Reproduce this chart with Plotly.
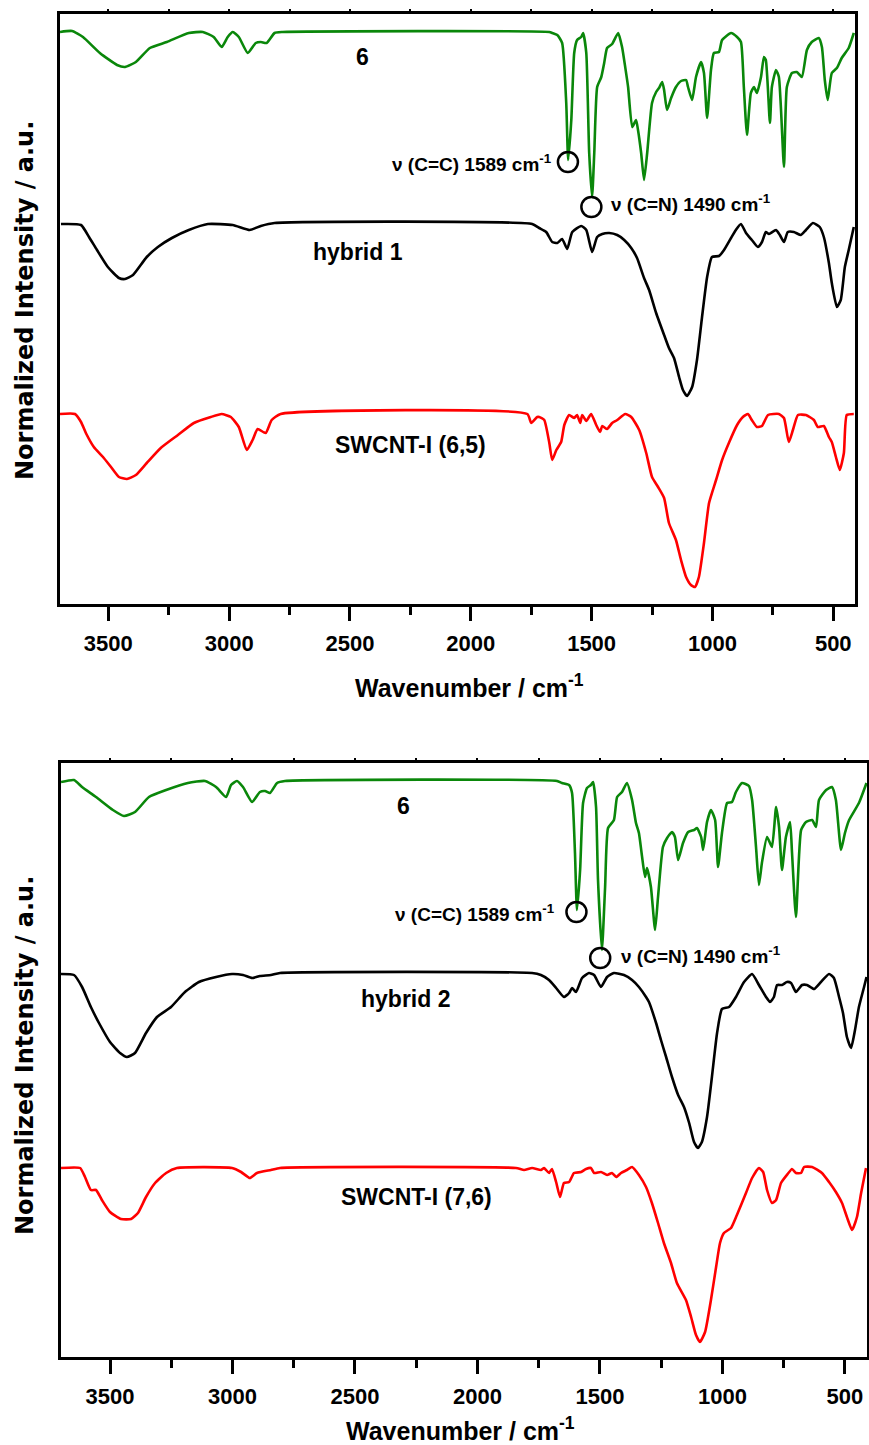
import plotly.graph_objects as go

# ---------------- top panel (compound 6 / hybrid 1 / SWCNT-I (6,5)) ----------------
wn_6_top = [3700, 3650, 3605, 3535, 3464, 3431, 3386, 3328, 3258, 3167, 3109, 3064, 3031, 3006, 2985, 2960,
            2923, 2890, 2869, 2845, 2812, 2779, 1675, 1663, 1642, 1622, 1605, 1597, 1584, 1572, 1560, 1543,
            1535, 1522, 1510, 1498, 1489, 1477, 1460, 1448, 1436, 1415, 1390, 1374, 1361, 1349, 1332, 1316,
            1308, 1295, 1283, 1270, 1250, 1233, 1221, 1208, 1200, 1188, 1171, 1151, 1130, 1109, 1101, 1084,
            1068, 1047, 1035, 1022, 1006, 994, 973, 960, 923, 898, 882, 870, 857, 841, 828, 816, 799, 787,
            779, 762, 754, 737, 725, 704, 692, 671, 651, 630, 609, 589, 560, 547, 535, 523, 506, 485, 465,
            436, 415]
int_6_top = [572, 573, 567, 551, 539, 537, 542, 556, 562, 571, 572, 567, 557, 567, 572, 567,
             551, 561, 562, 561, 571, 572, 572, 571, 569, 561, 501, 444, 484, 551, 564, 567,
             571, 551, 451, 407, 451, 517, 527, 541, 556, 560, 571, 557, 537, 517, 477, 484,
             474, 451, 424, 451, 501, 512, 516, 522, 514, 494, 506, 517, 523, 524, 517, 504,
             527, 542, 531, 486, 534, 551, 552, 564, 571, 567, 562, 517, 469, 511, 517, 511, 527, 547,
             544, 481, 517, 534, 527, 437, 517, 531, 532, 527, 554, 562, 566, 557, 524, 504, 531, 536, 546,
             556, 571]

wn_h1 = [3696, 3613, 3580, 3547, 3502, 3456, 3431, 3398, 3341, 3295, 3237, 3167, 3088, 2985, 2915, 2869,
         2812, 1746, 1717, 1688, 1663, 1642, 1622, 1601, 1580, 1543, 1522, 1498, 1477, 1456, 1427, 1394,
         1365, 1336, 1312, 1283, 1262, 1233, 1200, 1180, 1159, 1138, 1122, 1105, 1084, 1064, 1043, 1022,
         1002, 973, 952, 923, 903, 882, 861, 837, 812, 795, 779, 766, 737, 721, 704, 688, 663, 634, 613,
         584, 556, 539, 518, 506, 485, 469, 452, 436, 415]
int_h1 = [380, 379, 367, 354, 337, 326, 325, 329, 347, 357, 366, 374, 380, 379, 374, 378,
          381, 380, 376, 372, 362, 361, 365, 355, 372, 378, 374, 352, 367, 370, 371, 369,
          364, 356, 346, 326, 314, 291, 269, 256, 246, 227, 214, 208, 217, 244, 287, 327,
          347, 348, 354, 366, 374, 380, 371, 364, 357, 362, 372, 370, 374, 369, 362, 372, 372, 369, 374,
          381, 377, 367, 341, 321, 297, 304, 337, 354, 377]

wn_s65 = [3700, 3638, 3613, 3593, 3560, 3522, 3489, 3456, 3423, 3386, 3341, 3283, 3212, 3146, 3076, 3031,
          2993, 2960, 2927, 2903, 2882, 2849, 2824, 2787, 1766, 1750, 1725, 1717, 1696, 1675, 1663, 1646,
          1626, 1613, 1593, 1572, 1560, 1547, 1539, 1522, 1502, 1481, 1465, 1456, 1436, 1415, 1394, 1361,
          1336, 1303, 1274, 1250, 1225, 1200, 1180, 1151, 1130, 1109, 1089, 1072, 1056, 1035, 1014, 985,
          960, 932, 898, 874, 853, 837, 816, 795, 770, 725, 704, 684, 667, 646, 613, 580, 564, 539, 518,
          506, 489, 473, 456, 444, 415]
int_s65 = [190, 190, 182, 171, 157, 147, 137, 127, 125, 129, 141, 156, 169, 181, 187, 190,
           187, 177, 154, 164, 175, 171, 184, 190, 190, 181, 187, 187, 184, 161, 144, 154,
           162, 179, 189, 186, 189, 181, 189, 183, 190, 179, 172, 178, 175, 181, 184, 190,
           187, 174, 151, 127, 117, 106, 81, 64, 44, 27, 19, 17, 27, 61, 101, 124,
           144, 161, 179, 187, 190, 184, 177, 178, 189, 190, 186, 162, 174, 189, 189, 184, 177, 178, 167,
           162, 147, 134, 151, 189, 190]

# ---------------- bottom panel (compound 6 / hybrid 2 / SWCNT-I (7,6)) ----------------
wn_6_bot = [3700, 3647, 3614, 3557, 3488, 3443, 3398, 3341, 3271, 3182, 3112, 3067, 3026, 3006, 2982, 2957,
            2920, 2888, 2867, 2847, 2818, 2786, 1675, 1655, 1626, 1614, 1602, 1594, 1581, 1569, 1553, 1537,
            1528, 1516, 1508, 1492, 1479, 1467, 1443, 1430, 1410, 1390, 1369, 1353, 1341, 1328, 1316, 1308,
            1292, 1275, 1263, 1243, 1226, 1206, 1194, 1181, 1161, 1140, 1116, 1104, 1087, 1079, 1063, 1047,
            1030, 1018, 1002, 981, 961, 945, 920, 892, 879, 863, 851, 839, 818, 798, 781, 769, 757, 741,
            724, 716, 700, 679, 659, 634, 618, 606, 577, 553, 537, 516, 500, 483, 443, 412]
int_6_bot = [575, 577, 570, 560, 547, 541, 545, 560, 567, 574, 576, 570, 560, 572, 576, 570,
             555, 565, 566, 564, 574, 576, 576, 574, 572, 564, 504, 447, 487, 554, 569, 572,
             575, 550, 477, 407, 470, 529, 537, 560, 565, 574, 557, 534, 524, 500, 480, 489,
             470, 427, 460, 510, 519, 525, 520, 497, 514, 525, 527, 529, 520, 507, 535, 547,
             537, 490, 524, 554, 555, 565, 574, 571, 557, 510, 472, 494, 520, 510, 550, 530, 487, 520,
             535, 504, 440, 527, 535, 537, 530, 557, 567, 570, 557, 507, 524, 537, 554, 574]

wn_h2 = [3700, 3647, 3614, 3578, 3545, 3500, 3459, 3431, 3398, 3353, 3308, 3251, 3194, 3137, 3067, 3002,
         2957, 2920, 2888, 2843, 2806, 1777, 1741, 1708, 1679, 1647, 1626, 1614, 1598, 1573, 1545, 1524,
         1496, 1471, 1443, 1402, 1369, 1341, 1312, 1300, 1271, 1251, 1230, 1206, 1181, 1157, 1136, 1116,
         1100, 1084, 1063, 1043, 1022, 1002, 973, 945, 912, 879, 851, 822, 806, 790, 777, 757, 737, 720,
         700, 675, 655, 626, 598, 565, 545, 524, 508, 492, 475, 459, 443, 422, 412]
int_h2 = [383, 382, 370, 350, 334, 315, 304, 300, 304, 324, 340, 350, 365, 375, 380, 383,
          382, 379, 381, 382, 384, 384, 382, 377, 369, 360, 364, 369, 365, 379, 384, 382,
          370, 380, 384, 382, 377, 370, 360, 355, 334, 317, 300, 280, 262, 250, 234, 215,
          209, 215, 240, 280, 324, 348, 350, 360, 375, 383, 372, 360, 355, 360, 372, 372, 375, 374,
          365, 372, 372, 368, 375, 383, 379, 360, 344, 320, 309, 327, 350, 370, 380]

wn_s76 = [3700, 3622, 3602, 3578, 3557, 3533, 3500, 3455, 3414, 3386, 3353, 3316, 3271, 3227, 3002, 2965,
          2929, 2900, 2843, 2806, 1843, 1810, 1777, 1741, 1728, 1708, 1696, 1679, 1663, 1647, 1626, 1606,
          1577, 1557, 1537, 1524, 1496, 1471, 1451, 1434, 1414, 1390, 1369, 1341, 1312, 1288, 1263, 1239,
          1210, 1186, 1149, 1128, 1108, 1092, 1071, 1047, 1026, 1010, 994, 965, 941, 904, 879, 851, 834,
          818, 798, 781, 761, 737, 716, 700, 679, 667, 634, 594, 565, 537, 512, 492, 471, 451, 434, 414]
int_s76 = [189, 189, 180, 167, 167, 157, 145, 138, 138, 144, 160, 174, 184, 189, 189, 185,
           179, 184, 187, 189, 189, 187, 189, 187, 189, 184, 188, 175, 160, 174, 175, 184,
           185, 188, 189, 184, 185, 182, 184, 180, 184, 187, 190, 182, 170, 154, 134, 114,
           94, 74, 57, 40, 22, 15, 25, 57, 90, 114, 124, 129, 142, 164, 179, 189, 185,
           167, 154, 157, 174, 182, 188, 184, 184, 190, 190, 184, 175, 165, 154, 140, 127, 140, 164, 189]

x_tickvals = [3500, 3000, 2500, 2000, 1500, 1000, 500]
x_ticktext = ["3500", "3000", "2500", "2000", "1500", "1000", "500"]
x_minorvals = [3250, 2750, 2250, 1750, 1250, 750]
x_topticks = [3500, 3250, 3000, 2750, 2500, 2250, 2000, 1750, 1500, 1250, 1000, 750, 500]

GREEN = "#0a870a"
RED = "#ff0000"
BLACK = "#000000"
LW = 2.6
SANS = "Liberation Sans, Arial, sans-serif"
LAB_FONT = dict(family=SANS, size=23, color="black", weight="bold")
ANN_FONT = dict(family=SANS, size=19, color="black", weight="bold")

fig = go.Figure()
for xs, ys, col, ax in [(wn_6_top, int_6_top, GREEN, 1), (wn_h1, int_h1, BLACK, 1), (wn_s65, int_s65, RED, 1),
                        (wn_6_bot, int_6_bot, GREEN, 2), (wn_h2, int_h2, BLACK, 2), (wn_s76, int_s76, RED, 2)]:
    fig.add_trace(go.Scatter(x=xs, y=ys, mode="lines", line=dict(color=col, width=LW, shape="spline", smoothing=0.5),
                             xaxis="x" if ax == 1 else "x2", yaxis="y" if ax == 1 else "y2",
                             hoverinfo="skip", showlegend=False))

def xaxis_cfg(domain, anchor):
    return dict(domain=domain, anchor=anchor, range=[3700, 410], tickmode="array", tickvals=x_tickvals,
                ticktext=x_ticktext, ticks="outside", ticklen=14, tickwidth=3, tickcolor="black",
                minor=dict(tickmode="array", tickvals=x_minorvals, ticks="outside",
                           ticklen=8, tickwidth=3, tickcolor="black"),
                showline=True, linewidth=3, linecolor="black", mirror=True, showgrid=False, zeroline=False,
                tickfont=dict(family=SANS, size=22, color="black", weight="bold"),
                ticklabelstandoff=4)

def xtop_cfg(anchor, overlay):
    return dict(overlaying=overlay, anchor=anchor, side="top", range=[3700, 410], tickmode="array",
                tickvals=x_topticks, ticks="outside", ticklen=4, tickwidth=1.5, tickcolor="black",
                showticklabels=False, showline=False, showgrid=False, zeroline=False)

def yaxis_cfg(domain, anchor, rng):
    return dict(domain=domain, anchor=anchor, range=rng, showticklabels=False, ticks="", showgrid=False,
                zeroline=False, showline=True, linewidth=3, linecolor="black", mirror=True)

fig.update_layout(
    width=869, height=1445, margin=dict(l=0, r=0, t=0, b=0),
    paper_bgcolor="white", plot_bgcolor="white", showlegend=False,
    xaxis=xaxis_cfg([60 / 869, 855 / 869], "y"),
    yaxis=yaxis_cfg([1 - 604 / 1445, 1 - 14 / 1445], "x", [0, 590]),
    xaxis2=xaxis_cfg([61 / 869, 867 / 869], "y2"),
    yaxis2=yaxis_cfg([1 - 1357 / 1445, 1 - 763 / 1445], "x2", [0, 594]),
    xaxis3=xtop_cfg("y", "x"),
    xaxis4=xtop_cfg("y2", "x2"),
)
# invisible traces to activate the top tick axes
fig.add_trace(go.Scatter(x=[3700], y=[0], mode="markers", marker=dict(opacity=0), xaxis="x3", yaxis="y",
                         hoverinfo="skip", showlegend=False))
fig.add_trace(go.Scatter(x=[3700], y=[0], mode="markers", marker=dict(opacity=0), xaxis="x4", yaxis="y2",
                         hoverinfo="skip", showlegend=False))

anns = []
# curve labels
for txt, x, y, xr, yr in [("6", 2450, 547, "x", "y"), ("hybrid 1", 2467, 352, "x", "y"),
                          ("SWCNT-I (6,5)", 2250, 159, "x", "y"),
                          ("6", 2300, 551, "x2", "y2"), ("hybrid 2", 2292, 358, "x2", "y2"),
                          ("SWCNT-I (7,6)", 2247, 160, "x2", "y2")]:
    anns.append(dict(text=txt, x=x, y=y, xref=xr, yref=yr, showarrow=False, font=LAB_FONT,
                     xanchor="center", yanchor="middle"))
# band assignments
for txt, x, y, xr, yr, xa in [("ν (C=C) 1589 cm<sup>-1</sup>", 1655, 441, "x", "y", "right"),
                              ("ν (C=N) 1490 cm<sup>-1</sup>", 1427, 401, "x", "y", "left"),
                              ("ν (C=C) 1589 cm<sup>-1</sup>", 1675, 444, "x2", "y2", "right"),
                              ("ν (C=N) 1490 cm<sup>-1</sup>", 1422, 402, "x2", "y2", "left")]:
    anns.append(dict(text=txt, x=x, y=y, xref=xr, yref=yr, showarrow=False, font=ANN_FONT,
                     xanchor=xa, yanchor="middle"))
# axis titles
for y_c, x_c in [(1 - 686 / 1445, 470 / 869), (1 - 1429 / 1445, 460 / 869)]:
    anns.append(dict(text="Wavenumber / cm<sup>-1</sup>", x=x_c, y=y_c, xref="paper", yref="paper",
                     showarrow=False, font=dict(family=SANS, size=25, color="black", weight="bold"),
                     xanchor="center", yanchor="middle"))
for y_c in [1 - 301 / 1445, 1 - 1056 / 1445]:
    anns.append(dict(text="Normalized Intensity / a.u.", x=25 / 869, y=y_c, xref="paper", yref="paper",
                     showarrow=False, textangle=-90,
                     font=dict(family="DejaVu Sans, Verdana, sans-serif", size=24, color="black", weight="bold"),
                     xanchor="center", yanchor="middle"))
fig.update_layout(annotations=anns)

# circles marking the bands
for xc, yc, xr, yr in [(1598, 442, "x", "y"), (1501, 397, "x", "y"), (1596, 445, "x2", "y2"), (1499, 399, "x2", "y2")]:
    fig.add_shape(type="circle", xref=xr, yref=yr, xsizemode="pixel", ysizemode="pixel",
                  xanchor=xc, yanchor=yc, x0=-10, x1=10, y0=-10, y1=10,
                  line=dict(color="black", width=2.5))

fig.write_html("out.html")
